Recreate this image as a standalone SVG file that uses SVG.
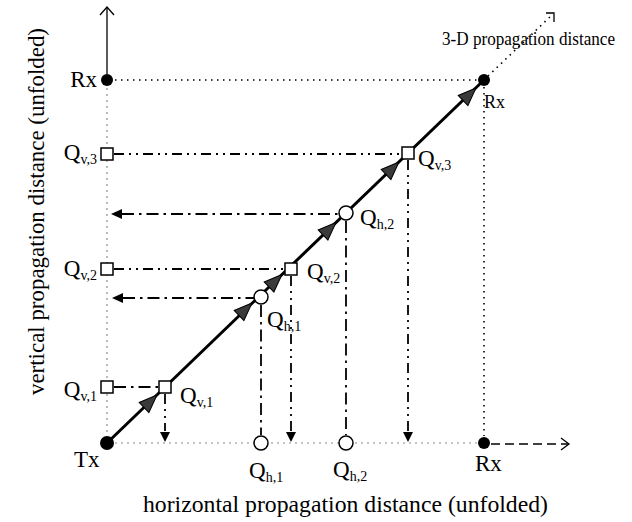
<svg xmlns="http://www.w3.org/2000/svg" width="632" height="522" viewBox="0 0 632 522">
<style>
text{font-family:"Liberation Serif","Times New Roman",serif;font-size:23px;fill:#000}
.sub{font-size:14px}
.small{font-size:18px}
.ax{stroke:#000;stroke-width:1.3;fill:none}
.faint{stroke:#8c8c8c;stroke-width:1.2;stroke-dasharray:2 4;fill:none}
.dot{stroke:#000;stroke-width:1.6;stroke-dasharray:1.5 4.5;fill:none}
.dd2{stroke:#000;stroke-width:1.8;stroke-dasharray:10 5 2 5 2 5;fill:none}
.dd1{stroke:#000;stroke-width:1.8;stroke-dasharray:12 5 2.5 5;fill:none}
.dash{stroke:#000;stroke-width:1.4;stroke-dasharray:9 5;fill:none}
.diag{stroke:#000;stroke-width:3;fill:none}
.sq{fill:#fff;stroke:#000;stroke-width:1.5}
.fill{fill:#000}
.ah{fill:#3a3a3a;stroke:#000;stroke-width:1}
.tri{fill:#000}
</style>
<defs>
<path id="ah" d="M0,0 L-18,-7 L-18,7 Z"/>
<path id="triL" d="M0,0 L11,-5 L11,5 Z"/>
<path id="triD" d="M0,0 L-5,-10 L5,-10 Z"/>
</defs>

<g id="connectors">
<line class="ax" x1="107" y1="8" x2="107" y2="74"/>
<polyline class="ax" points="100,15 107,7 114,15"/>
<line class="faint" x1="107" y1="88" x2="107" y2="436"/>
<line class="faint" x1="115" y1="443" x2="477" y2="443"/>
<line class="dash" x1="491" y1="444" x2="568" y2="444"/>
<polyline class="ax" points="561,438 569,444 561,450"/>
<line class="dot" x1="488" y1="76" x2="552" y2="15"/>
<polyline class="ax" stroke-width="1.8" points="546,13 554,13 554,22"/>
<line class="diag" x1="107" y1="443" x2="484" y2="80"/>
<g class="ah">
<use href="#ah" transform="translate(157,395) rotate(-43.9)"/>
<use href="#ah" transform="translate(252,303) rotate(-43.9)"/>
<use href="#ah" transform="translate(282,274.5) rotate(-43.9)"/>
<use href="#ah" transform="translate(336,222.5) rotate(-43.9)"/>
<use href="#ah" transform="translate(399,162) rotate(-43.9)"/>
<use href="#ah" transform="translate(476,88) rotate(-43.9)"/>
</g>
<line class="dot" x1="115" y1="80" x2="477" y2="80"/>
<line class="dd2" x1="114" y1="154" x2="401" y2="154"/>
<line class="dd1" x1="122" y1="214" x2="339" y2="214"/>
<use class="tri" href="#triL" transform="translate(111,214)"/>
<line class="dd2" x1="114" y1="269" x2="284" y2="269"/>
<line class="dd1" x1="123" y1="298" x2="254" y2="298"/>
<use class="tri" href="#triL" transform="translate(112,298)"/>
<line class="dd1" x1="114" y1="387" x2="158" y2="387"/>
<line class="dd2" x1="165" y1="394" x2="165" y2="431"/>
<use class="tri" href="#triD" transform="translate(165,442)"/>
<line class="dd1" x1="261" y1="305" x2="261" y2="435"/>
<line class="dd2" x1="291" y1="276" x2="291" y2="431"/>
<use class="tri" href="#triD" transform="translate(291,442)"/>
<line class="dd1" x1="346" y1="221" x2="346" y2="435"/>
<line class="dd2" x1="408" y1="160" x2="408" y2="431"/>
<use class="tri" href="#triD" transform="translate(408,442)"/>
<line class="dot" x1="484" y1="87" x2="484" y2="436"/>
</g>

<g id="rx-left"><circle class="fill" cx="107" cy="80" r="6"/><text x="97" y="87" text-anchor="end">Rx</text></g>
<g id="qv3-left"><rect class="sq" x="101" y="148" width="12" height="12"/><text x="97" y="160" text-anchor="end">Q<tspan class="sub" dy="4">v,3</tspan></text></g>
<g id="qv2-left"><rect class="sq" x="101" y="263" width="12" height="12"/><text x="97" y="276" text-anchor="end">Q<tspan class="sub" dy="4">v,2</tspan></text></g>
<g id="qv1-left"><rect class="sq" x="101" y="381" width="12" height="12"/><text x="97" y="397" text-anchor="end">Q<tspan class="sub" dy="4">v,1</tspan></text></g>
<g id="tx"><circle class="fill" cx="107" cy="443" r="7"/><text x="74" y="467">Tx</text></g>

<g id="qv1-diag"><rect class="sq" x="159" y="381" width="12" height="12"/><text x="180" y="403">Q<tspan class="sub" dy="4">v,1</tspan></text></g>
<g id="qh1-diag"><circle class="sq" cx="261" cy="297" r="7"/><text x="267" y="327">Q<tspan class="sub" dy="4">h,1</tspan></text></g>
<g id="qv2-diag"><rect class="sq" x="285" y="263" width="12" height="12"/><text x="307" y="279">Q<tspan class="sub" dy="4">v,2</tspan></text></g>
<g id="qh2-diag"><circle class="sq" cx="346" cy="213" r="7"/><text x="360" y="225">Q<tspan class="sub" dy="4">h,2</tspan></text></g>
<g id="qv3-diag"><rect class="sq" x="402" y="147" width="12" height="12"/><text x="418" y="166">Q<tspan class="sub" dy="4">v,3</tspan></text></g>
<g id="rx-diag"><circle class="fill" cx="484" cy="80" r="6"/><text class="small" x="484" y="108">Rx</text></g>
<g id="label-3d"><text class="small" x="442" y="45" textLength="173" lengthAdjust="spacingAndGlyphs">3-D propagation distance</text></g>

<g id="qh1-bottom"><circle class="sq" cx="261" cy="443" r="7"/><text x="249" y="478">Q<tspan class="sub" dy="4">h,1</tspan></text></g>
<g id="qh2-bottom"><circle class="sq" cx="346" cy="443" r="7"/><text x="333" y="477">Q<tspan class="sub" dy="4">h,2</tspan></text></g>
<g id="rx-bottom"><circle class="fill" cx="484" cy="443" r="6"/><text x="475" y="471" font-size="20">Rx</text></g>

<g id="x-label"><text x="143" y="512" textLength="405" lengthAdjust="spacingAndGlyphs">horizontal propagation distance (unfolded)</text></g>
<g id="y-label"><text transform="translate(44,395) rotate(-90)" x="0" y="0" textLength="367" lengthAdjust="spacingAndGlyphs">vertical propagation distance (unfolded)</text></g>
</svg>
